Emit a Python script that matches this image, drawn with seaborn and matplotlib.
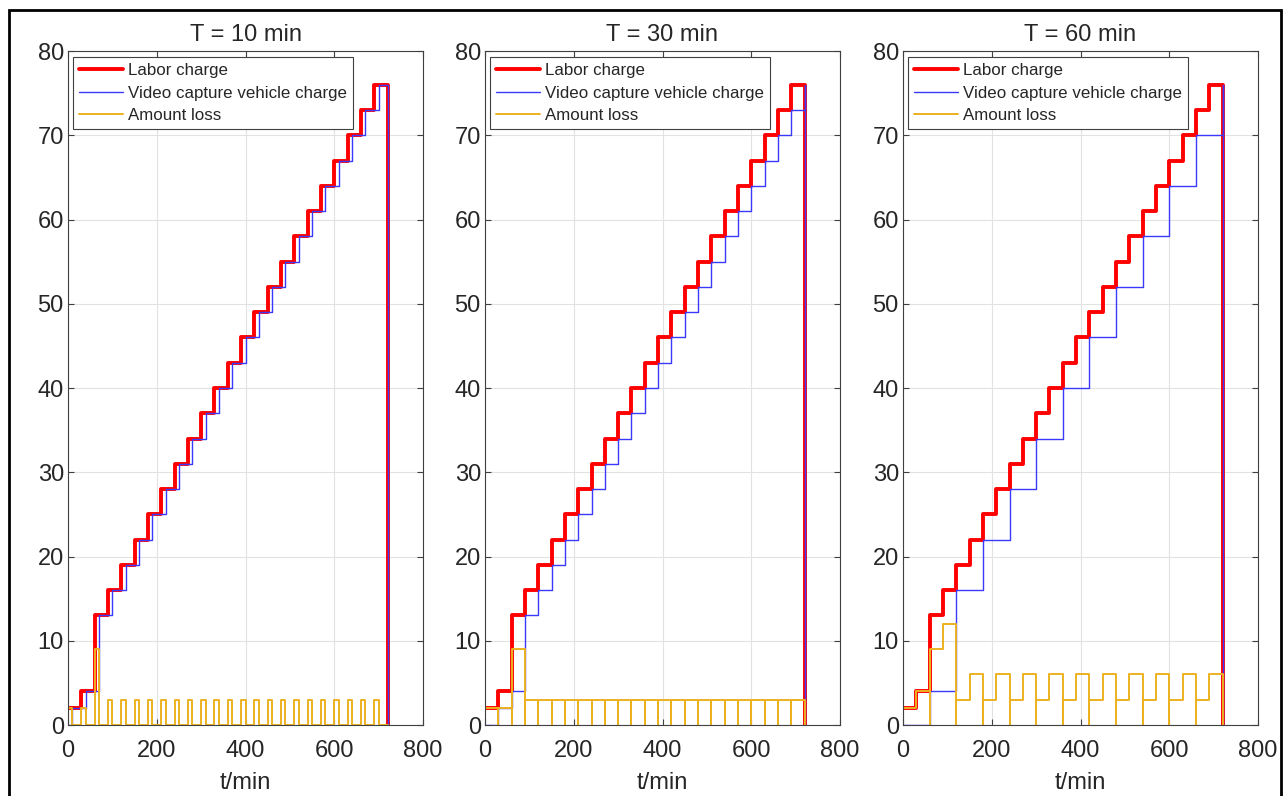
import matplotlib
matplotlib.use("Agg")
import matplotlib.pyplot as plt
import numpy as np
import seaborn as sns
from matplotlib.patches import Rectangle

# Labor charge: step times (min) and the charge that holds from each time on
labor_t = [0, 30, 60, 90, 120, 150, 180, 210, 240, 270, 300, 330,
           360, 390, 420, 450, 480, 510, 540, 570, 600, 630, 660, 690]
labor_v = [2, 4, 13, 16, 19, 22, 25, 28, 31, 34, 37, 40,
           43, 46, 49, 52, 55, 58, 61, 64, 67, 70, 73, 76]
end_time = 720

# Video capture vehicle charge for each capture period T
periods = [10, 30, 60]
video_10_t = [0, 10, 40, 70, 100, 130, 160, 190, 220, 250, 280, 310, 340,
              370, 400, 430, 460, 490, 520, 550, 580, 610, 640, 670, 700]
video_10_v = [0, 2, 4, 13, 16, 19, 22, 25, 28, 31, 34, 37, 40,
              43, 46, 49, 52, 55, 58, 61, 64, 67, 70, 73, 76]
video_30_t = [0, 30, 60, 90, 120, 150, 180, 210, 240, 270, 300, 330, 360,
              390, 420, 450, 480, 510, 540, 570, 600, 630, 660, 690, 720]
video_30_v = [0, 2, 4, 13, 16, 19, 22, 25, 28, 31, 34, 37, 40,
              43, 46, 49, 52, 55, 58, 61, 64, 67, 70, 73, 76]
video_60_t = [0, 60, 120, 180, 240, 300, 360, 420, 480, 540, 600, 660, 720]
video_60_v = [0, 4, 16, 22, 28, 34, 40, 46, 52, 58, 64, 70, 76]
video_t = [video_10_t, video_30_t, video_60_t]
video_v = [video_10_v, video_30_v, video_60_v]

x_ticks = [0, 200, 400, 600, 800]
y_ticks = [0, 10, 20, 30, 40, 50, 60, 70, 80]

RED = "#ff0000"
BLUE = "#3a3aff"
ORANGE = "#EDB120"


def value_at(times, values, t):
    i = np.searchsorted(times, t, side="right") - 1
    return values[max(i, 0)]


def stair_path(times, values, t_end):
    xs, ys = [times[0]], [values[0]]
    for i in range(1, len(times)):
        xs += [times[i], times[i]]
        ys += [values[i - 1], values[i]]
    xs += [t_end, t_end]
    ys += [values[-1], 0]
    return xs, ys


def loss_path(vt, vv, period):
    # loss = labor - video, reset to zero at every capture instant
    xs, ys = [], []
    for c in range(0, end_time, period):
        pts = sorted({c} | {b for b in labor_t + vt if c < b < c + period})
        vals = [value_at(labor_t, labor_v, b) - value_at(vt, vv, b) for b in pts]
        xs += [c, c]
        ys += [0, vals[0]]
        for b, prev, cur in zip(pts[1:], vals[:-1], vals[1:]):
            xs += [b, b]
            ys += [prev, cur]
        xs += [c + period, c + period]
        ys += [vals[-1], 0]
    return xs, ys


sns.set_style("ticks")
plt.rcParams["font.family"] = ["Liberation Sans", "DejaVu Sans"]

W, H = 1287, 796
fig = plt.figure(figsize=(W / 100, H / 100), dpi=100)
lefts = [68, 485, 903]

lx, ly = stair_path(labor_t, labor_v, end_time)
for k, period in enumerate(periods):
    ax = fig.add_axes([lefts[k] / W, 1 - 725 / H, 355 / W, 674 / H])
    vx, vy = stair_path(video_t[k], video_v[k], end_time)
    ox, oy = loss_path(video_t[k], video_v[k], period)

    sns.lineplot(x=lx, y=ly, sort=False, estimator=None, color=RED, lw=2.8,
                 label="Labor charge", ax=ax)
    sns.lineplot(x=vx, y=vy, sort=False, estimator=None, color=BLUE, lw=1.0,
                 label="Video capture vehicle charge", ax=ax)
    sns.lineplot(x=ox, y=oy, sort=False, estimator=None, color=ORANGE, lw=1.4,
                 label="Amount loss", ax=ax)

    ax.set_xlim(0, 800)
    ax.set_ylim(0, 80)
    ax.set_xticks(x_ticks)
    ax.set_yticks(y_ticks)
    ax.grid(True, color="#e2e2e2", lw=0.8)
    ax.set_axisbelow(True)
    ax.tick_params(direction="in", top=True, right=True, length=4, width=0.8,
                   color="#404040", labelsize=17)
    ax.tick_params(axis="x", pad=11)
    ax.tick_params(axis="y", pad=3)
    for sp in ax.spines.values():
        sp.set_visible(True)
        sp.set_color("#404040")
        sp.set_linewidth(0.8)
    ax.set_title(f"T = {period} min", fontsize=17, pad=7)
    ax.set_xlabel("t/min", fontsize=17, labelpad=7)
    ax.set_ylabel("")

    leg = ax.legend(loc="upper left", bbox_to_anchor=(0.014, 0.991), borderaxespad=0,
                    fontsize=12.2, frameon=True, fancybox=False, framealpha=1,
                    edgecolor="#404040", handlelength=2.6, handletextpad=0.3,
                    borderpad=0.35, labelspacing=0.45)
    leg.get_frame().set_linewidth(0.8)

# outer frame around the whole figure
fig.add_artist(Rectangle((9 / W, -0.05), (1281 - 9) / W, 1.05 - 10 / H,
                         transform=fig.transFigure, fill=False, lw=2, color="black"))

fig.savefig("out.png", dpi=100)
